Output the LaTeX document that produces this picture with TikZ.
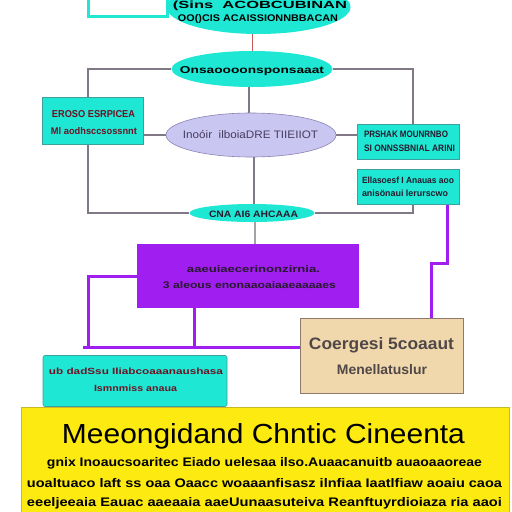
\documentclass[tikz,border=0pt]{standalone}
\usepackage{fontspec}
\setmainfont{Liberation Sans}
\usetikzlibrary{shapes.geometric,backgrounds,calc}
\definecolor{cy}{RGB}{30,232,212}
\definecolor{cyb}{RGB}{60,160,160}
\definecolor{pur}{RGB}{160,30,240}
\definecolor{lav}{RGB}{202,198,242}
\definecolor{lavb}{RGB}{140,130,180}
\definecolor{beige}{RGB}{240,216,172}
\definecolor{beigeb}{RGB}{140,122,112}
\definecolor{yel}{RGB}{252,234,16}
\definecolor{yelb}{RGB}{200,185,40}
\definecolor{gline}{RGB}{128,120,132}
\definecolor{rline}{RGB}{200,90,90}
\definecolor{dred}{RGB}{110,15,35}
\definecolor{dk}{RGB}{40,25,45}
\definecolor{lavt}{RGB}{70,60,95}
\definecolor{beiget}{RGB}{80,72,72}
\newcommand\tw[3]{\resizebox{#1pt}{#2pt}{#3}}
\begin{document}
\begin{tikzpicture}[x=1pt,y=-1pt,
  cbox/.style={rectangle, draw=cyb, fill=cy, line width=0.6pt, inner sep=0pt},
  cell/.style={ellipse, fill=cy, draw=none, inner sep=0pt},
  txt/.style={anchor=base, inner sep=0pt, font=\bfseries},
  gl/.style={draw=gline, line width=1.4pt},
  pl/.style={draw=pur, line width=3pt}]
\useasboundingbox (0,0) rectangle (512,512);
% shapes
\node[draw=cy, line width=3pt, fill=white, minimum width=79pt, minimum height=32pt, inner sep=0pt] (tlb) at (127.5,0) {};
\node[cell, minimum width=184pt, minimum height=54pt] (te) at (258.5,7) {};
\node[cell, minimum width=161pt, minimum height=36pt] (e2) at (252,69) {};
\node[cbox, minimum width=101pt, minimum height=47pt] (lb) at (92.5,120.5) {};
\node[ellipse, fill=lav, draw=lavb, line width=0.6pt, inner sep=0pt, minimum width=170pt, minimum height=44pt] (e3) at (251,135) {};
\node[cbox, minimum width=102pt, minimum height=35pt] (rb1) at (408,141.5) {};
\node[cbox, minimum width=102pt, minimum height=35pt] (rb2) at (408,186.5) {};
\node[cell, minimum width=125pt, minimum height=18pt] (e4) at (252,213) {};
\node[rectangle, fill=pur, inner sep=0pt, minimum width=222pt, minimum height=64pt] (pb) at (248,276) {};
\node[rectangle, fill=beige, draw=beigeb, line width=1pt, inner sep=0pt, minimum width=163pt, minimum height=75pt] (bg) at (381.5,355.5) {};
\node[cbox, rounded corners=2pt, minimum width=184pt, minimum height=51pt] (bb) at (135,381) {};
\node[rectangle, fill=yel, draw=yelb, line width=0.5pt, inner sep=0pt, minimum width=488pt, minimum height=108pt] (yb) at (265,461) {};
\coordinate (pj) at (88,347);
\coordinate (pd) at (194,347);
\coordinate (pk) at (447,263);
\coordinate (pm) at (431,263);
% connectors
\begin{pgfonlayer}{background}
\fill[white] (0,0) rectangle (512,512);
\draw[draw=rline, line width=0.7pt] (e2.north |- te.south) -- (e2.north);
\draw[gl] (e2.west) -| ($(lb.north)+(-4.5,0)$);
\draw[gl] (e2.east) -| ($(rb1.north)+(5,0)$);
\draw[gl] ($(e2.south)+(-3,0)$) -- ($(e2.south |- e3.north)+(-3,0)$);
\draw[gl] (lb.east |- e3.west) -- (e3.west);
\draw[gl] (e3.east) -- (e3.east -| rb1.west);
\draw[gl] ($(e3.south)+(3,0)$) -- ($(e3.south |- e4.north)+(3,0)$);
\draw[gl] ($(lb.south)+(-4.5,0)$) |- (e4.west);
\draw[gl] (e4.east) -| ($(rb2.south)+(5,0)$);
\draw[draw=gline!70, line width=1.4pt] ($(e4.south)+(3,0)$) -- ($(e4.south |- pb.north)+(3,0)$);
\draw[pl] (pb.west) -| (pj) -- (pj -| bg.west);
\draw[pl] (pj) -- ++(-5,0);
\draw[pl] (pd |- pb.south) -- (pd);
\draw[pl] (pk |- rb2.south) -- (pk) -- (pm) -- (pm |- bg.north);
\end{pgfonlayer}
% texts
\node[txt, text=black] (t1) at (260,8.5) {\tw{174}{7.5}{(Sins~~ACOBCUBINAN}};
\node[txt, text=black] (t2) at (258,21.5) {\tw{160}{7}{OO()CIS ACAISSIONNBBACAN}};
\node[txt, text=black] (t3) at (252,73.5) {\tw{144}{7}{Onsaoooonsponsaaat}};
\node[txt, text=dred] (t4) at (93.5,117.5) {\tw{83}{7}{EROSO ESRPICEA}};
\node[txt, text=dred] (t5) at (94,134.5) {\tw{86}{7}{Ml aodhsccsossnnt}};
\node[txt, text=lavt, font=\normalfont] (t6) at (250.5,138) {\tw{135}{8}{Inoóir~~ilboiaDRE TIIEIIOT}};
\node[txt, text=dk] (t7) at (406,137) {\tw{84}{6.5}{PRSHAK MOUNRNBO}};
\node[txt, text=dk] (t8) at (409.5,151) {\tw{91}{6.5}{SI ONNSSBNIAL ARINI}};
\node[txt, text=dk] (t9) at (408,183) {\tw{92}{6.5}{Ellasoesf I Anauas aoo}};
\node[txt, text=dk] (t10) at (405,196) {\tw{86}{6.5}{anisönaui lerurscwo}};
\node[txt, text=dk] (t11) at (253.5,217) {\tw{89}{6.5}{CNA AI6 AHCAAA}};
\node[txt, text=dk] (t12) at (253.5,272.5) {\tw{133}{7}{aaeuiaecerinonzirnia.}};
\node[txt, text=dk] (t13) at (249.5,288.5) {\tw{173}{7}{3 aleous enonaaoaiaaeaaaaes}};
\node[txt, text=dred] (t14) at (136,374) {\tw{174}{6.5}{ub dadSsu Iliabcoaaanaushasa}};
\node[txt, text=dred] (t15) at (135.5,391) {\tw{83}{6.5}{Ismnmiss anaua}};
\node[txt, text=beiget] (t16) at (381.5,349) {\tw{145}{12}{Coergesi 5coaaut}};
\node[txt, text=beiget] (t17) at (382,374) {\tw{90}{10}{Menellatuslur}};
\node[txt, text=black, font=\normalfont] (t18) at (263.5,443) {\tw{403}{20}{Meeongidand Chntic Cineenta}};
\node[txt, text=black] (t19) at (264.5,466) {\tw{435}{9}{gnix Inoaucsoaritec Eiado uelesaa ilso.Auaacanuitb auaoaaoreae}};
\node[txt, text=black] (t20) at (264.5,487) {\tw{475}{9}{uoaltuaco laft ss oaa Oaacc woaaanfisasz ilnfiaa Iaatlfiaw aoaiu caoa}};
\node[txt, text=black] (t21) at (264.5,506) {\tw{475}{9}{eeeljeeaia Eauac aaeaaia aaeUunaasuteiva Reanftuyrdioiaza ria aaoi}};
\end{tikzpicture}
\end{document}
